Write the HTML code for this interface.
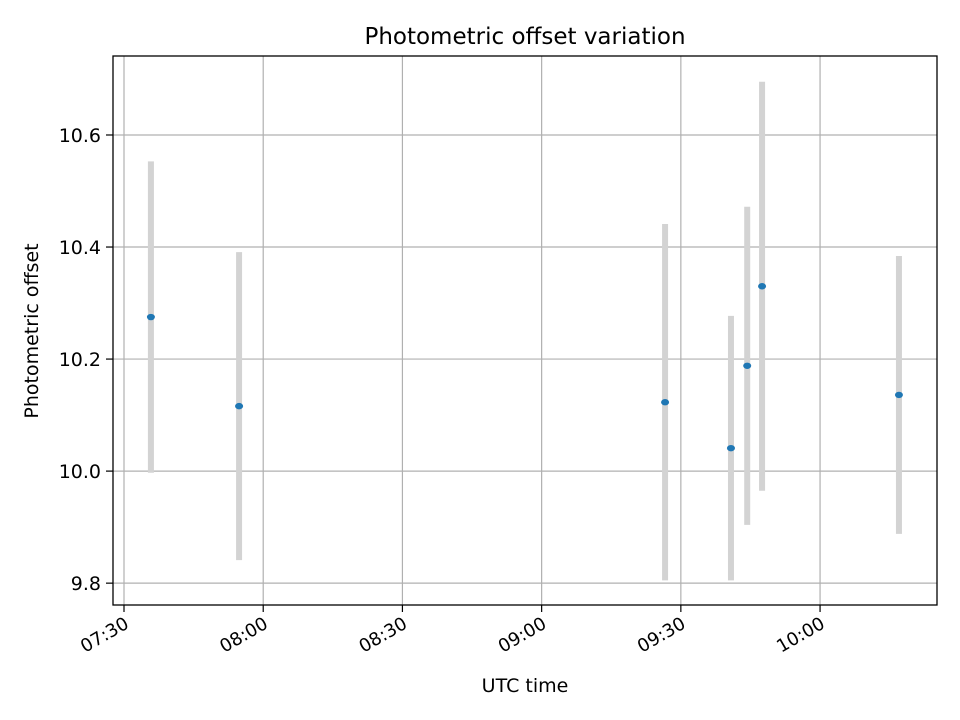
<!DOCTYPE html>
<html><head><meta charset="utf-8"><style>
html,body{margin:0;padding:0;background:#fff}
svg{display:block;font-family:"DejaVu Sans","Liberation Sans",sans-serif}
</style></head><body>
<svg id="chart" width="960" height="720" viewBox="0 0 960 720">
<rect width="960" height="720" fill="#fff"/>
<text x="525" y="44" text-anchor="middle" font-size="23">Photometric offset variation</text>
<g id="grid"></g><g id="bars"></g><g id="pts"></g><g id="ticks"></g>
<rect x="113" y="56" width="824" height="549" fill="none" stroke="#000" stroke-width="1.3"/>
<text x="525" y="692" text-anchor="middle" font-size="19">UTC time</text>
<text transform="translate(38,331) rotate(-90)" text-anchor="middle" font-size="19">Photometric offset</text>
</svg>
<script>
// minutes after 07:30
const times=[5.8,24.8,116.6,130.8,134.3,137.5,167.0];
const offsets=[10.275,10.116,10.123,10.041,10.188,10.330,10.136];
const errors=[0.278,0.275,0.318,0.236,0.284,0.365,0.248];
const xTickVals=[0,30,60,90,120,150];
const xTickLabels=["07:30","08:00","08:30","09:00","09:30","10:00"];
const yTickVals=[9.8,10.0,10.2,10.4,10.6];
const yTickLabels=["9.8","10.0","10.2","10.4","10.6"];

const NS="http://www.w3.org/2000/svg";
const L=113,R=937,T=56,B=605;
const xMin=-2.37,xMax=175.2,yMin=9.761,yMax=10.741;
const xs=v=>L+(v-xMin)/(xMax-xMin)*(R-L);
const ys=v=>B-(v-yMin)/(yMax-yMin)*(B-T);
function mk(tag,attrs,parent){const e=document.createElementNS(NS,tag);for(const k in attrs)e.setAttribute(k,attrs[k]);document.getElementById(parent).appendChild(e);return e;}

xTickVals.forEach((v,i)=>{const x=xs(v);
 const g=mk('line',{x1:x,x2:x,y1:T,y2:B,stroke:'#b0b0b0','stroke-width':1.2},'grid');
 
 
 const t=mk('line',{x1:x,x2:x,y1:B,y2:B+7,stroke:'#000','stroke-width':1.2},'ticks');
 
 
 const ax=x+6,ay=B+22;
 const tx=mk('text',{x:ax,y:ay,'font-size':18,'text-anchor':'end',transform:`rotate(-30 ${ax} ${ay})`},'ticks');
 tx.textContent=xTickLabels[i];
 
 
});
yTickVals.forEach((v,i)=>{const y=ys(v);
 const g=mk('line',{x1:L,x2:R,y1:y,y2:y,stroke:'#b0b0b0','stroke-width':1.2},'grid');
 
 
 const t=mk('line',{x1:L-7,x2:L,y1:y,y2:y,stroke:'#000','stroke-width':1.2},'ticks');
 
 
 const tx=mk('text',{x:L-12,y:y+7,'font-size':19,'text-anchor':'end'},'ticks');
 tx.textContent=yTickLabels[i];
 
 
});
times.forEach((t,i)=>{const x=xs(t);
 const b=mk('line',{x1:x,x2:x,y1:ys(offsets[i]+errors[i]),y2:ys(offsets[i]-errors[i]),stroke:'#d3d3d3','stroke-width':6},'bars');
 
 
 const p=mk('ellipse',{cx:x,cy:ys(offsets[i]),rx:4,ry:3.2,fill:'#1f77b4'},'pts');
 
 
});
</script>
</body></html>
